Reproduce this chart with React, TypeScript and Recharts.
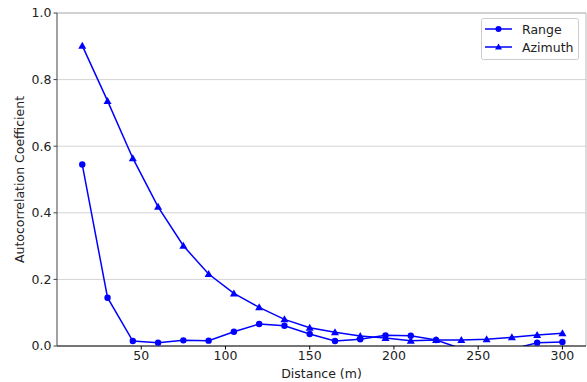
import { CartesianGrid, Label, Line, LineChart, ReferenceLine, XAxis, YAxis } from "recharts";

const distance = [15, 30, 45, 60, 75, 90, 105, 120, 135, 150, 165, 180, 195, 210, 225, 240, 255, 270, 285, 300];
const range = [0.545, 0.145, 0.015, 0.01, 0.017, 0.016, 0.043, 0.066, 0.061, 0.036, 0.015, 0.02, 0.032, 0.031, 0.018, -0.008, -0.02, -0.01, 0.01, 0.012];
const azimuth = [0.902, 0.736, 0.564, 0.418, 0.301, 0.216, 0.158, 0.116, 0.08, 0.055, 0.041, 0.03, 0.024, 0.016, 0.018, 0.018, 0.02, 0.026, 0.033, 0.038];
const xTicks = [50, 100, 150, 200, 250, 300];
const yTicks = [0, 0.2, 0.4, 0.6, 0.8, 1.0];

const data = distance.map((d, i) => ({ distance: d, range: range[i], azimuth: azimuth[i] }));

const BLUE = "#0000ff";
const FONT = "DejaVu Sans";
const FS = 12.5;

const Triangle = (props: any) => {
  const { cx, cy } = props;
  if (cx == null || cy == null) return null;
  const s = 4;
  return <polygon points={`${cx},${cy - s} ${cx - s},${cy + s * 0.75} ${cx + s},${cy + s * 0.75}`} fill={BLUE} />;
};

const LegendBox = () => (
  <svg width={100} height={44} style={{ position: "absolute", left: 481, top: 18 }}>
    <rect x={0.5} y={0.5} width={97} height={41} rx={2} fill="#fff" fillOpacity={0.8} stroke="#cccccc" />
    <line x1={4} x2={31} y1={11} y2={11} stroke={BLUE} strokeWidth={1.5} />
    <circle cx={17.5} cy={11} r={3} fill={BLUE} />
    <text x={41} y={15.5} fontSize={FS} fontFamily={FONT} fill="#222">Range</text>
    <line x1={4} x2={31} y1={29} y2={29} stroke={BLUE} strokeWidth={1.5} />
    <polygon points="17.5,25.5 14,31.5 21,31.5" fill={BLUE} />
    <text x={41} y={33.5} fontSize={FS} fontFamily={FONT} fill="#222">Azimuth</text>
  </svg>
);

export default function App() {
  return (
    <div style={{ position: "absolute", left: 0, top: 0, width: 587, height: 382, background: "#fff" }}>
      <LineChart width={587} height={382} data={data} margin={{ top: 13, right: 1, left: 0, bottom: 0 }}>
        <CartesianGrid vertical={false} stroke="#d4d4d4" strokeWidth={1} />
        <XAxis
          dataKey="distance"
          type="number"
          domain={[0, 314]}
          ticks={xTicks}
          allowDataOverflow
          height={36}
          stroke="#000"
          tickSize={3.5}
          tick={{ fill: "#222", fontSize: FS, fontFamily: FONT }}
        >
          <Label value="Distance (m)" position="insideBottom" offset={4} style={{ fill: "#222", fontSize: FS, fontFamily: FONT }} />
        </XAxis>
        <YAxis
          type="number"
          domain={[0, 1]}
          ticks={yTicks}
          allowDataOverflow
          width={57}
          stroke="#444"
          tickSize={3.5}
          tickFormatter={(v: number) => v.toFixed(1)}
          tick={{ fill: "#222", fontSize: FS, fontFamily: FONT }}
        >
          <Label value="Autocorrelation Coefficient" angle={-90} position="insideLeft" offset={20} style={{ textAnchor: "middle", fill: "#222", fontSize: FS, fontFamily: FONT }} />
        </YAxis>
        <ReferenceLine x={314} stroke="#bbbbbb" />
        <ReferenceLine y={1} stroke="#bbbbbb" />
        <Line
          dataKey="range"
          stroke={BLUE}
          strokeWidth={1.5}
          dot={{ r: 3.2, fill: BLUE, stroke: BLUE, strokeWidth: 0 }}
          activeDot={false}
          isAnimationActive={false}
        />
        <Line
          dataKey="azimuth"
          stroke={BLUE}
          strokeWidth={1.5}
          dot={<Triangle />}
          activeDot={false}
          isAnimationActive={false}
        />
      </LineChart>
      <LegendBox />
    </div>
  );
}
